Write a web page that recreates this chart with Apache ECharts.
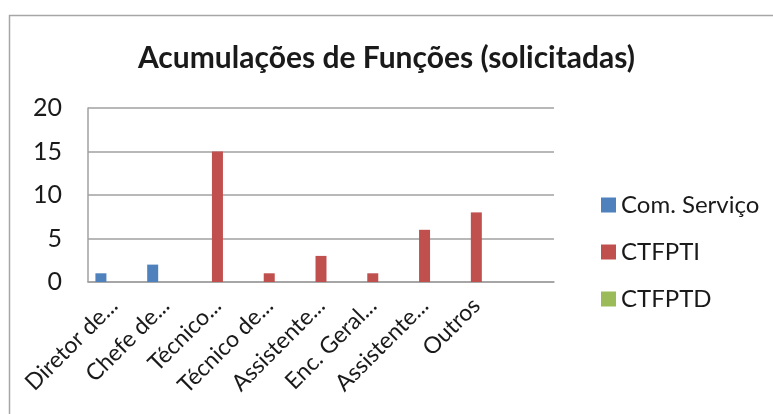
<!DOCTYPE html>
<html><head><meta charset="utf-8">
<script src="https://cdn.jsdelivr.net/npm/echarts@6/dist/echarts.min.js"></script>
<style>html,body{margin:0;padding:0;background:#fff}#c{width:773px;height:414px}</style>
</head><body><div id="c"></div>
<script>
var categories = ['Diretor de...', 'Chefe de...', 'Técnico...', 'Técnico de...', 'Assistente...', 'Enc. Geral...', 'Assistente...', 'Outros', ''];
var comServico = [1, 2, 0, 0, 0, 0, 0, 0, 0];
var ctfpti = [0, 0, 15, 1, 3, 1, 6, 8, 0];
var ctfptd = [0, 0, 0, 0, 0, 0, 0, 0, 0];
var seriesNames = ['Com. Serviço', 'CTFPTI', 'CTFPTD'];
var yTicks = [0, 5, 10, 15, 20];

var font = 'Lato, Carlito, "Open Sans", sans-serif';
var chart = echarts.init(document.getElementById('c'), null, {renderer: 'canvas'});
function bar(name, data, color) {
  return {name: name, type: 'bar', data: data, barWidth: 11, barGap: '18%',
    itemStyle: {color: color}, animation: false};
}
chart.setOption({
  animation: false,
  textStyle: {fontFamily: font},
  graphic: [{type: 'rect', shape: {x: 9.5, y: 15.5, width: 800, height: 500},
    style: {fill: 'none', stroke: '#a6a6a6', lineWidth: 1.5}, silent: true}],
  title: {text: 'Acumulações de Funções (solicitadas)', left: 'center', top: 38,
    textStyle: {fontFamily: font, fontSize: 30, fontWeight: 'bold', color: '#1a1a1a'}},
  grid: {left: 88, right: 219, top: 108, bottom: 132, containLabel: false},
  legend: {orient: 'vertical', left: 596, top: 188, itemWidth: 15, itemHeight: 15, itemGap: 23,
    icon: 'rect', data: seriesNames,
    textStyle: {fontFamily: font, fontSize: 24, color: '#1a1a1a'}},
  xAxis: {type: 'category', data: categories,
    axisLine: {lineStyle: {color: '#a0a0a0', width: 1.5}},
    axisTick: {show: false},
    axisLabel: {rotate: 45, interval: 0, fontSize: 23, color: '#1a1a1a', fontFamily: font, margin: 20}},
  yAxis: {type: 'value', min: yTicks[0], max: yTicks[yTicks.length - 1], interval: 5,
    axisLine: {show: true, lineStyle: {color: '#a0a0a0', width: 1.5}},
    axisTick: {show: false},
    splitLine: {lineStyle: {color: '#a0a0a0', width: 1.5}},
    axisLabel: {fontSize: 25, color: '#1a1a1a', fontFamily: font, margin: 26}},
  series: [bar(seriesNames[0], comServico, '#4F81BD'), bar(seriesNames[1], ctfpti, '#C0504D'), bar(seriesNames[2], ctfptd, '#9BBB59')]
});
</script></body></html>
